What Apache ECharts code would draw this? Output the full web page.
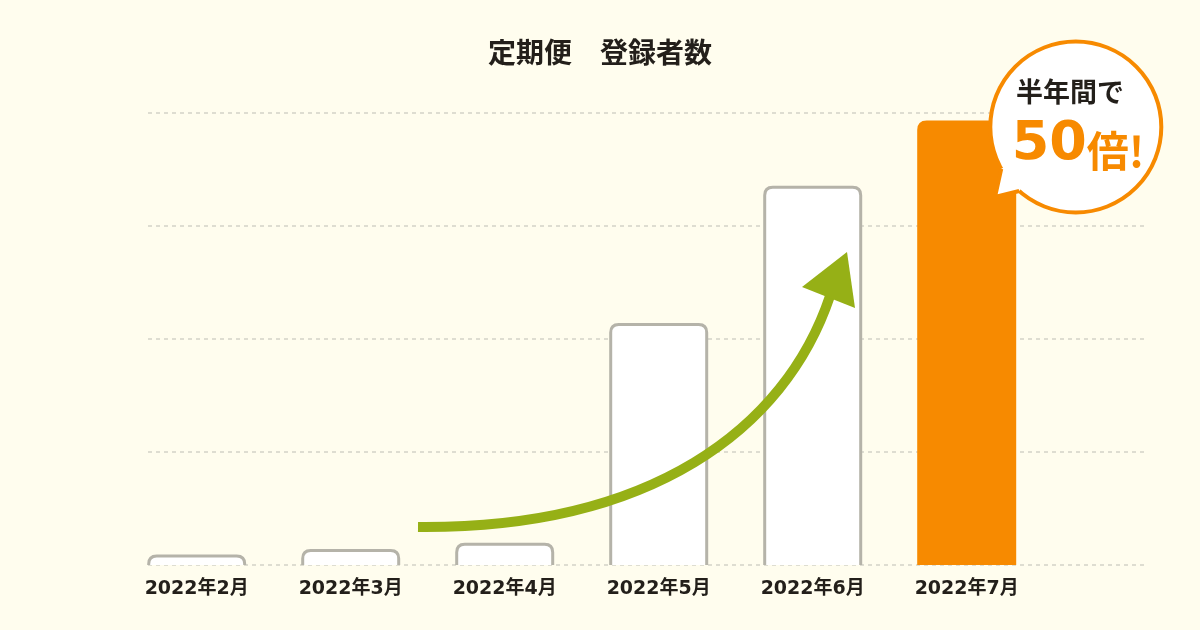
<!DOCTYPE html>
<html><head><meta charset="utf-8">
<script src="https://cdn.jsdelivr.net/npm/echarts@6/dist/echarts.min.js"></script>
<style>html,body{margin:0;padding:0;background:#fffdee}#c{width:1200px;height:630px}</style>
</head><body><div id="c"></div>
<script>
const categories = ['2022年2月', '2022年3月', '2022年4月', '2022年5月', '2022年6月', '2022年7月'];
const subscribers = [1, 1.6, 2.3, 26.6, 41.8, 49];
const highlightIndex = 5;
const titleText = '定期便　登録者数';
const badgeLine1 = '半年間で';
const badgeNumber = '50';
const badgeSuffix = '倍!';
const yMax = 50;
const yStep = 12.5;

const FONT = '"Noto Sans CJK JP", "Noto Sans", sans-serif';
const LABEL_FONT = '"DejaVu Sans", "Noto Sans CJK JP", sans-serif';
const BG = '#fffdee';
const ORANGE = '#f78a00';
const GREEN = '#96b016';
const GRAYLINE = '#b5b3a9';

const chart = echarts.init(document.getElementById('c'));

// speech bubble geometry (decoration)
const bc = [1075.8, 127], br = 85.5;
function pt(angDeg, rad) { const a = angDeg * Math.PI / 180; return [bc[0] + rad * Math.cos(a), bc[1] + rad * Math.sin(a)]; }
const angA = 150.7, angB = 131.5;
const pA = pt(angA, br), pB = pt(angB, br), tip = [995, 197];
const inA = pt(angA, br - 5), inB = pt(angB, br - 5);

chart.setOption({
  backgroundColor: BG,
  animation: false,
  textStyle: { fontFamily: FONT },
  title: {
    text: titleText, left: 'center', top: 33,
    textStyle: { fontSize: 28, fontWeight: 'bold', color: '#231f1a', fontFamily: FONT }
  },
  grid: [
    { left: 148, right: 53, top: 113, bottom: 65 },
    { left: 119.7, right: 156.3, top: 113, bottom: 65 }
  ],
  xAxis: [
    { type: 'value', gridIndex: 0, show: false, min: 0, max: 1 },
    {
      type: 'category', gridIndex: 1, data: categories,
      axisLine: { show: false }, axisTick: { show: false },
      axisLabel: { fontSize: 19, fontWeight: 'bold', color: '#231f1a', margin: 15, fontFamily: LABEL_FONT }
    }
  ],
  yAxis: [
    {
      type: 'value', gridIndex: 0, min: 0, max: yMax, interval: yStep,
      axisLabel: { show: false }, axisLine: { show: false }, axisTick: { show: false },
      splitLine: { show: true, lineStyle: { color: '#d4d2c7', width: 1.5, type: [4, 4] } }
    },
    { type: 'value', gridIndex: 1, min: 0, max: yMax, show: false, splitLine: { show: false } }
  ],
  series: [{
    type: 'custom',
    xAxisIndex: 1, yAxisIndex: 1,
    data: subscribers.map((v, i) => [i, v]),
    encode: { x: 0, y: 1 },
    renderItem: function (params, api) {
      const idx = api.value(0), val = api.value(1);
      const top = api.coord([idx, val]);
      const base = api.coord([idx, 0]);
      const w = 96;
      const x0 = top[0] - w / 2, x1 = top[0] + w / 2, yT = top[1], yB = base[1];
      const r = Math.min(8, yB - yT);
      const d = `M${x0} ${yB}L${x0} ${yT + r}Q${x0} ${yT} ${x0 + r} ${yT}L${x1 - r} ${yT}Q${x1} ${yT} ${x1} ${yT + r}L${x1} ${yB}`;
      const hl = params.dataIndex === highlightIndex;
      return {
        type: 'path', shape: { pathData: d },
        style: { fill: hl ? ORANGE : '#ffffff', stroke: hl ? ORANGE : GRAYLINE, lineWidth: 3, lineJoin: 'round' }
      };
    }
  }],
  graphic: [
    {
      type: 'bezierCurve', z: 50,
      shape: { x1: 418, y1: 527, cpx1: 650, cpy1: 529, cpx2: 785, cpy2: 430, x2: 830, y2: 296 },
      style: { stroke: GREEN, lineWidth: 10, fill: 'none', lineCap: 'butt' }
    },
    {
      type: 'polygon', z: 51,
      shape: { points: [[847, 252], [802, 287], [855, 308]] },
      style: { fill: GREEN }
    },
    {
      type: 'circle', z: 60,
      shape: { cx: bc[0], cy: bc[1], r: br },
      style: { fill: '#ffffff', stroke: ORANGE, lineWidth: 4 }
    },
    {
      type: 'polygon', z: 61,
      shape: { points: [inA, pA, tip, pB, inB] },
      style: { fill: '#ffffff' }
    },
    {
      type: 'polyline', z: 62,
      shape: { points: [pA, tip, pB] },
      style: { stroke: ORANGE, lineWidth: 4, fill: 'none', lineJoin: 'miter' }
    },
    {
      type: 'text', z: 63, x: 1070, y: 92,
      style: { text: badgeLine1, fill: '#231f1a', font: 'bold 27px ' + FONT, align: 'center', verticalAlign: 'middle' }
    },
    {
      type: 'text', z: 63, x: 1078, y: 145,
      style: {
        text: '{n|' + badgeNumber + '}{k|' + badgeSuffix + '}',
        align: 'center', verticalAlign: 'middle',
        rich: {
          n: { fill: ORANGE, fontFamily: '"DejaVu Sans", sans-serif', fontWeight: 'bold', fontSize: 54, verticalAlign: 'bottom' },
          k: { fill: ORANGE, fontFamily: FONT, fontWeight: 'bold', fontSize: 42, verticalAlign: 'bottom' }
        }
      }
    }
  ]
});
</script>
</body></html>
